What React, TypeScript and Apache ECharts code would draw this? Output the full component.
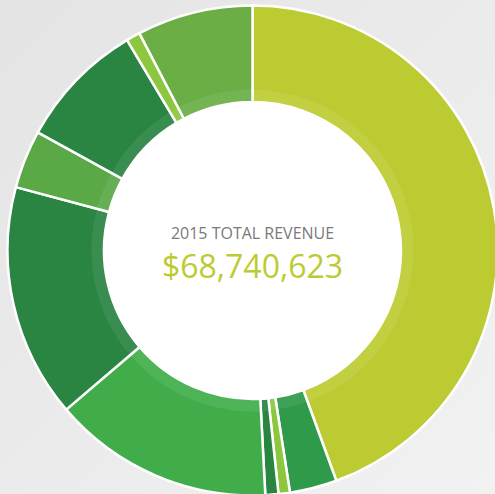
import React, { useEffect, useRef } from "react";
import * as echarts from "echarts";

const categories = [
  "Segment A",
  "Segment B",
  "Segment C",
  "Segment D",
  "Segment E",
  "Segment F",
  "Segment G",
  "Segment H",
  "Segment I",
  "Segment J",
];
const revenueValues = [
  30551000, 2139000, 516000, 592000, 10025000, 10598000, 2635000, 5805000, 630000, 5251000,
];
const sliceColors = [
  "#bccb31",
  "#2f9a4a",
  "#8dc63f",
  "#2a8442",
  "#40ad4a",
  "#2a8442",
  "#5aa946",
  "#2a8442",
  "#8dc63f",
  "#6aae45",
];
const titleText = "2015 TOTAL REVENUE";
const totalText = "$68,740,623";

export default function App() {
  const ref = useRef<HTMLDivElement>(null);
  useEffect(() => {
    if (!ref.current) return;
    const chart = echarts.init(ref.current, null, { renderer: "svg" });
    const cx = 252.5;
    const cy = 250.5;
    const data = categories.map((name, i) => ({
      name,
      value: revenueValues[i],
      itemStyle: { color: sliceColors[i] },
    }));
    chart.setOption({
      animation: false,
      backgroundColor: {
        type: "linear",
        x: 0,
        y: 0,
        x2: 1,
        y2: 1,
        colorStops: [
          { offset: 0, color: "#e4e4e4" },
          { offset: 1, color: "#f2f2f2" },
        ],
      },
      graphic: [
        {
          type: "circle",
          z: 0,
          shape: { cx, cy, r: 149 },
          style: { fill: "#ffffff" },
          silent: true,
        },
        {
          type: "text",
          z: 10,
          x: cx,
          y: 233,
          style: {
            text: titleText,
            fill: "#7a7a7a",
            font: "16px 'Open Sans'",
            lineHeight: 16,
            textAlign: "center",
            textVerticalAlign: "middle",
          },
        },
        {
          type: "text",
          z: 10,
          x: cx,
          y: 265,
          style: {
            text: totalText,
            fill: "#bccb31",
            font: "32px 'Open Sans'",
            lineHeight: 30,
            textAlign: "center",
            textVerticalAlign: "middle",
          },
        },
      ],
      series: [
        {
          type: "pie",
          center: [cx, cy],
          radius: [148.5, 245],
          startAngle: 90,
          clockwise: true,
          avoidLabelOverlap: false,
          label: { show: false },
          labelLine: { show: false },
          emphasis: { disabled: true },
          itemStyle: { borderColor: "#ffffff", borderWidth: 2.5 },
          data,
        },
        {
          type: "pie",
          center: [cx, cy],
          radius: [148.5, 161],
          startAngle: 90,
          clockwise: true,
          silent: true,
          z: 3,
          label: { show: false },
          labelLine: { show: false },
          emphasis: { disabled: true },
          itemStyle: { color: "rgba(255,255,255,0.08)", borderWidth: 0 },
          data: categories.map((name, i) => ({ name, value: revenueValues[i] })),
        },
      ],
    });
    return () => chart.dispose();
  }, []);
  return (
    <div
      ref={ref}
      style={{ position: "fixed", left: 0, top: 0, width: 495, height: 494 }}
    />
  );
}
